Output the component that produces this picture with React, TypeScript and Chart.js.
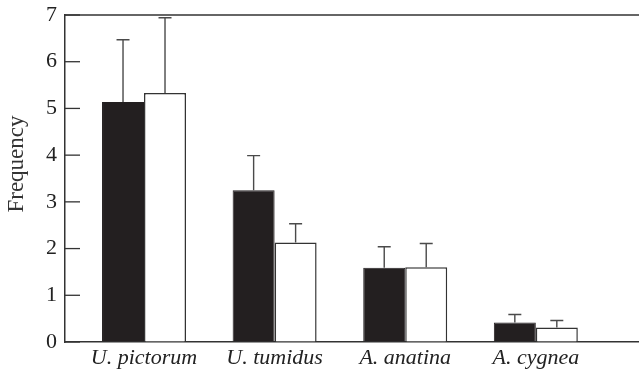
import React, { useEffect, useRef } from "react";
import { Chart, registerables } from "chart.js";

Chart.register(...registerables);

const categories = ["U. pictorum", "U. tumidus", "A. anatina", "A. cygnea"];
const blackValues = [5.14, 3.25, 1.59, 0.42];
const blackErrorTops = [6.47, 3.99, 2.04, 0.59];
const whiteValues = [5.33, 2.13, 1.6, 0.31];
const whiteErrorTops = [6.94, 2.53, 2.11, 0.46];
const yTickValues = [0, 1, 2, 3, 4, 5, 6, 7];
const yTitle = "Frequency";

const FONT = "'Liberation Serif', 'Times New Roman', serif";

const decor = {
  id: "decor",
  afterDatasetsDraw(chart: any) {
    const { ctx, chartArea, scales } = chart;
    const y = scales.y;
    ctx.save();
    const errs = [blackErrorTops, whiteErrorTops];
    chart.data.datasets.forEach((_ds: any, di: number) => {
      const meta = chart.getDatasetMeta(di);
      meta.data.forEach((bar: any, i: number) => {
        const x = bar.x;
        const top = bar.y;
        const ey = y.getPixelForValue(errs[di][i]);
        ctx.strokeStyle = "#4a4a4a";
        ctx.lineWidth = 1.4;
        ctx.beginPath();
        ctx.moveTo(x, top);
        ctx.lineTo(x, ey);
        ctx.moveTo(x - 6.5, ey);
        ctx.lineTo(x + 6.5, ey);
        ctx.stroke();
      });
    });
    // inward tick marks on y axis
    ctx.strokeStyle = "#333";
    ctx.lineWidth = 1.3;
    yTickValues.forEach((v) => {
      const py = y.getPixelForValue(v);
      ctx.beginPath();
      ctx.moveTo(chartArea.left, py);
      ctx.lineTo(chartArea.left + 15, py);
      ctx.stroke();
    });
    // top border
    ctx.lineWidth = 1.5;
    ctx.beginPath();
    ctx.moveTo(chartArea.left, chartArea.top);
    ctx.lineTo(chartArea.right, chartArea.top);
    ctx.stroke();
    // y title
    ctx.fillStyle = "#333";
    ctx.font = `23px ${FONT}`;
    ctx.textAlign = "center";
    ctx.textBaseline = "middle";
    ctx.translate(17, 164);
    ctx.rotate(-Math.PI / 2);
    ctx.fillText(yTitle, 0, 0);
    ctx.restore();
  },
};

export default function App() {
  const ref = useRef<HTMLCanvasElement | null>(null);
  useEffect(() => {
    document.body.style.margin = "0";
    if (!ref.current) return;
    const chart = new Chart(ref.current, {
      type: "bar",
      data: {
        datasets: [
          {
            data: blackValues.map((v, i) => ({ x: i, y: v })),
            backgroundColor: "#231f20",
            borderColor: "#231f20",
            borderWidth: 1,
          },
          {
            data: whiteValues.map((v, i) => ({ x: i, y: v })),
            backgroundColor: "#ffffff",
            borderColor: "#333",
            borderWidth: 1.5,
          },
        ],
      },
      options: {
        animation: false,
        responsive: true,
        maintainAspectRatio: false,
        categoryPercentage: 0.643,
        barPercentage: 1,
        layout: { padding: { top: 15, right: 0, left: 0, bottom: 0 } },
        plugins: { legend: { display: false }, tooltip: { enabled: false } },
        scales: {
          x: {
            type: "linear",
            offset: false,
            min: -0.605,
            max: 3.79,
            afterBuildTicks: (s: any) => {
              s.ticks = categories.map((_, i) => ({ value: i }));
            },
            afterFit: (s: any) => {
              s.height = 32;
              s.paddingLeft = 0;
              s.paddingRight = 0;
            },
            ticks: {
              callback: (v: any) => categories[v as number] ?? "",
              font: { family: FONT, size: 22, style: "italic" },
              color: "#222",
              padding: 3,
              autoSkip: false,
              maxRotation: 0,
            },
            grid: { drawOnChartArea: false, drawTicks: false },
            border: { display: true, color: "#333", width: 1.5 },
          },
          y: {
            min: 0,
            max: 7,
            afterBuildTicks: (s: any) => {
              s.ticks = yTickValues.map((v) => ({ value: v }));
            },
            afterFit: (s: any) => {
              s.width = 65;
              s.paddingTop = 0;
              s.paddingBottom = 0;
            },
            ticks: {
              font: { family: FONT, size: 22 },
              color: "#222",
              padding: 8,
            },
            grid: { drawOnChartArea: false, drawTicks: false },
            border: { display: true, color: "#333", width: 1.5 },
          },
        },
      },
      plugins: [decor],
    } as any);
    return () => chart.destroy();
  }, []);
  return (
    <div style={{ position: "absolute", left: 0, top: 0, width: 639, height: 374 }}>
      <canvas ref={ref} />
    </div>
  );
}
